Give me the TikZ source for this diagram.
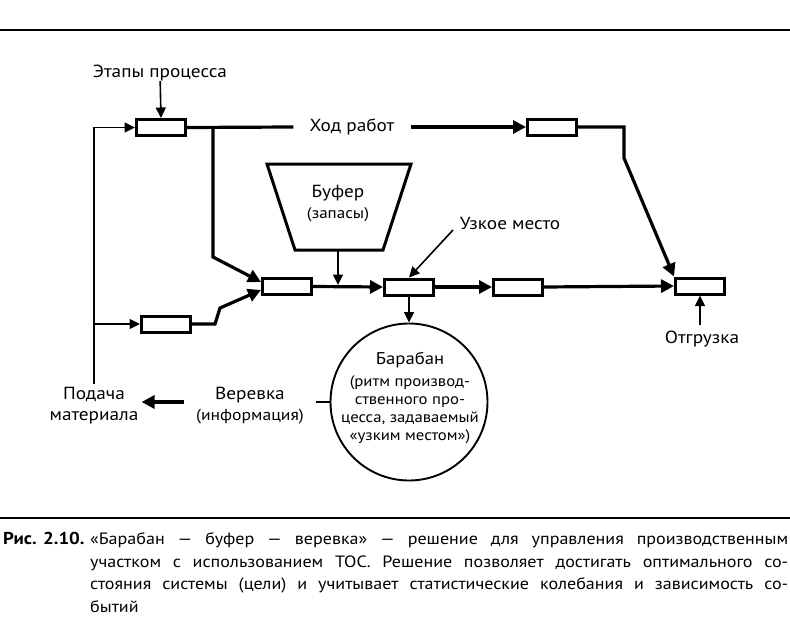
\documentclass[tikz,border=0pt]{standalone}
\usepackage{fontspec}
\setmainfont[FakeStretch=1.1]{PT Sans}
\usetikzlibrary{arrows.meta}
\begin{document}
\begin{tikzpicture}[x=1pt,y=-1pt,
  box/.style={draw,line width=3pt,minimum width=49pt,minimum height=16pt,inner sep=0pt},
  lbl/.style={font=\fontsize{17.5}{21}\selectfont,inner sep=0pt,align=center},
  sml/.style={font=\fontsize{15.2}{18}\selectfont,inner sep=0pt,align=center},
  thk/.style={line width=3.2pt},
  thn/.style={line width=1.6pt},
  bigarr/.style={-{Triangle[length=13pt,width=13pt]}},
  smallarr/.style={-{Triangle[length=10.5pt,width=10pt]}},
  capt/.style={font=\fontsize{16.4}{20}\selectfont,inner sep=0pt,anchor=base west},
]
\useasboundingbox (0,0) rectangle (790,634);
% rules
\coordinate (rtl) at (0,30); \coordinate (rtr) at (790,30);
\coordinate (rbl) at (0,518); \coordinate (rbr) at (790,518);
\draw[line width=2pt] (rtl) -- (rtr);
\draw[line width=2pt] (rbl) -- (rbr);

% boxes
\node[box] (b1) at (161,127.5) {};
\node[box] (b2) at (552,127) {};
\node[box] (b3) at (287,286.5) {};
\node[box] (b4) at (409,287) {};
\node[box] (b5) at (518,287) {};
\node[box] (b6) at (700,286) {};
\node[box] (b7) at (166,324) {};

% labels
\node[lbl] (etap) at (160,73) {Этапы процесса};
\node[lbl,inner xsep=16pt] (hod) at (352,127) {Ход работ};
\node[lbl] (uzk) at (510,223) {Узкое место};
\node[lbl] (otg) at (702,339) {Отгрузка};
\node[lbl,inner sep=3pt] (pod) at (94,406) {Подача\\материала};
\node[lbl,inner xsep=12pt] (ver) at (250,406) {Веревка\\[0pt]{\fontsize{16}{19}\selectfont(информация)}};

% buffer
\coordinate (t1) at (267,164); \coordinate (t2) at (411,164);
\coordinate (t3) at (383,250); \coordinate (t4) at (295,250);
\draw[line width=3pt,line join=miter] (t1) -- (t2) -- (t3) -- (t4) -- cycle;
\node[lbl] (buf) at (338,204) {Буфер\\[0pt]{\fontsize{15.5}{18}\selectfont(запасы)}};
\coordinate (tb) at (338,250);
\coordinate (bj) at (338,285);
\draw[thn,smallarr] (tb) -- (bj);

% drum
\node[draw,circle,line width=1.9pt,minimum size=157pt,inner sep=0pt] (drum) at (409,402) {};
\node[sml] (drumtxt) at (410,398) {{\fontsize{17}{20}\selectfont Барабан}\\[4pt](ритм производ-\\ственного про-\\цесса, задаваемый\\«узким местом»)};

% connectors
\draw[thn,smallarr] (etap) -- (b1.north);
\draw[thn,smallarr] (pod.north) |- (b1.west);
\coordinate (j1) at (94,324);
\draw[thn,smallarr] (j1) -- (b7.west);
\draw[thk] (b1.east) -- (hod.west);
\draw[thk,bigarr] (hod.east) -- (b2.west);
\coordinate (j2) at (213,127.5);
\coordinate (j3) at (213,257);
\draw[thk,bigarr,line join=miter] (j2) -- (j3) -- ([yshift=4.5pt]b3.west);
\coordinate (k1) at (215,324);
\coordinate (k2) at (220,308);
\draw[thk,bigarr,line join=miter] (b7.east) -- (k1) -- (k2) -- ([yshift=-3.5pt]b3.west);
\draw[thk,bigarr] (b3.east) -- (b4.west);
\draw[thk,bigarr] (b4.east) -- (b5.west);
\draw[thk,bigarr] (b5.east) -- (b6.west);
\coordinate (m1) at (624,127);
\coordinate (m2) at (624,158);
\draw[thk,bigarr,line join=miter] (b2.east) -- (m1) -- (m2) -- (b6.north west);
\coordinate (u1) at (453,230);
\draw[thn,smallarr] (u1) -- (b4.north);
\draw[thn,smallarr] (b4.south) -- (drum.north);
\coordinate (o1) at (700,325);
\draw[thn,smallarr] (o1) -- (b6.south);
\draw[line width=2.4pt] (drum.west) -- (ver.east |- drum.west);
\draw[thk,bigarr] (ver.west |- drum.west) -- (pod.east |- drum.west);

% caption
\node[capt,font=\fontsize{17.2}{20}\selectfont\bfseries] (c0) at (3,544) {Рис. 2.10.};
\node[capt] (c1) at (90,544) {\makebox[698pt][s]{«Барабан — буфер — веревка» — решение для управления производственным}};
\node[capt] (c2) at (90,567) {\makebox[698pt][s]{участком с использованием ТОС. Решение позволяет достигать оптимального со-}};
\node[capt] (c3) at (90,589) {\makebox[698pt][s]{стояния системы (цели) и учитывает статистические колебания и зависимость со-}};
\node[capt] (c4) at (90,612) {бытий};
\end{tikzpicture}
\end{document}
